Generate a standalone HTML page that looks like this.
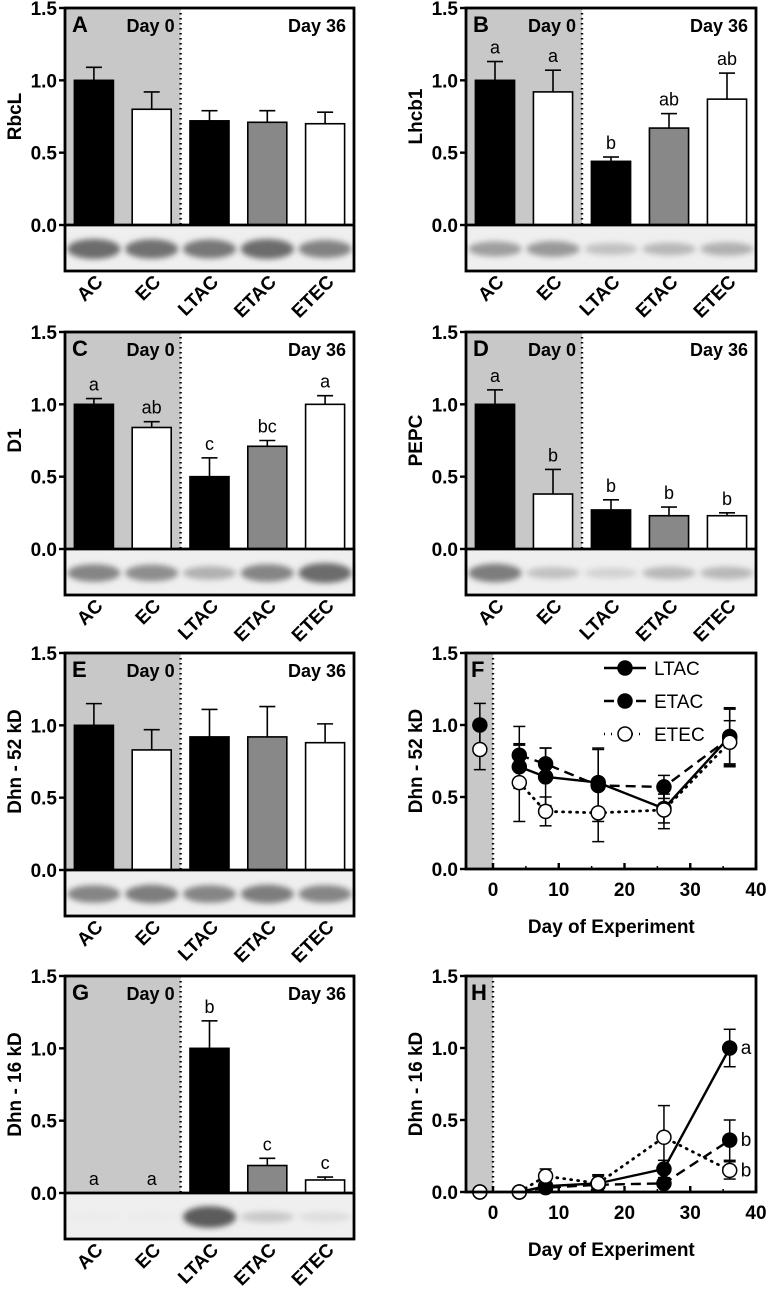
<!DOCTYPE html>
<html><head><meta charset="utf-8"><style>
html,body{margin:0;padding:0;background:#fff;}
svg{display:block;font-family:"Liberation Sans",Arial,sans-serif;}
</style></head><body>
<svg id="fig" width="768" height="1291" viewBox="0 0 768 1291" xmlns="http://www.w3.org/2000/svg">
<defs>
<filter id="blur" x="-20%" y="-100%" width="140%" height="300%"><feGaussianBlur stdDeviation="3"/></filter>
</defs>
</svg>
<script>
// ---- bar-chart data ----
const categories = ["AC","EC","LTAC","ETAC","ETEC"];
const barFills = ["#000","#fff","#000","#888","#fff"];
const rbclValues = [1.0,0.80,0.72,0.71,0.70];
const rbclErrors = [0.09,0.12,0.07,0.08,0.08];
const lhcbValues = [1.0,0.92,0.44,0.67,0.87];
const lhcbErrors = [0.13,0.15,0.03,0.10,0.18];
const lhcbLetters = ["a","a","b","ab","ab"];
const d1Values = [1.0,0.84,0.50,0.71,1.0];
const d1Errors = [0.04,0.04,0.13,0.04,0.06];
const d1Letters = ["a","ab","c","bc","a"];
const pepcValues = [1.0,0.38,0.27,0.23,0.23];
const pepcErrors = [0.10,0.17,0.07,0.06,0.02];
const pepcLetters = ["a","b","b","b","b"];
const dhn52Values = [1.0,0.83,0.92,0.92,0.88];
const dhn52Errors = [0.15,0.14,0.19,0.21,0.13];
const dhn16Values = [0,0,1.0,0.19,0.09];
const dhn16Errors = [0,0,0.19,0.05,0.02];
const dhn16Letters = ["a","a","b","c","c"];
// blot band intensities (0..1)
const rbclBands = [0.75,0.72,0.68,0.75,0.62];
const lhcbBands = [0.45,0.48,0.25,0.3,0.35];
const d1Bands = [0.6,0.55,0.35,0.6,0.75];
const pepcBands = [0.65,0.25,0.15,0.3,0.3];
const dhn52Bands = [0.6,0.65,0.6,0.65,0.6];
const dhn16Bands = [0,0,0.85,0.2,0.08];
const yTicks = [0,0.5,1.0,1.5];
const yTickLabels = ["0.0","0.5","1.0","1.5"];
// ---- line-chart data ----
const days = [4,8,16,26,36];
const day0X = -2;
const xTicks = [0,10,20,30,40];
const f_ltac = [0.71,0.64,0.60,0.42,0.92];
const f_ltacErr = [0.15,0.20,0.24,0.10,0.20];
const f_etac = [0.79,0.73,0.58,0.57,0.91];
const f_etacErr = [0.20,0.11,0.25,0.08,0.20];
const f_etec = [0.60,0.40,0.39,0.41,0.88];
const f_etecErr = [0.27,0.10,0.20,0.13,0.15];
const f_day0 = [1.0,0.83];   // AC filled, EC open
const f_day0Err = [0.15,0.14];
const h_ltac = [0,0.04,0.06,0.16,1.0];
const h_ltacErr = [0,0.02,0.05,0.06,0.13];
const h_etac = [0,0.03,0.05,0.06,0.36];
const h_etacErr = [0,0.01,0.02,0.02,0.14];
const h_etec = [0,0.11,0.06,0.38,0.15];
const h_etecErr = [0,0.05,0.06,0.22,0.06];
const h_day0 = [0,0];
const h_endLetters = ["a","b","b"];

const svg = document.getElementById('fig');
const NS = "http://www.w3.org/2000/svg";
function mk(tag, attrs, parent){
  const e = document.createElementNS(NS, tag);
  for (const k in attrs) e.setAttribute(k, attrs[k]);
  (parent||svg).appendChild(e);
  return e;
}

function barPanel(o){
  const g = mk('g',{});
  
  
  const L=o.L, W=o.W, T=o.T, Z=T+217, B=Z+46;
  const y = v => Z - v/1.5*217;
  const cx = i => L + W*0.1 + i*W*0.2;
  const bw = W*0.135;
  const div = L + W*0.4;
  const shade = mk('rect',{x:L,y:T,width:div-L,height:Z-T,fill:'#c8c8c8'},g);
  
  
  const blot = mk('rect',{x:L,y:Z,width:W,height:B-Z,fill:'#efefef'},g);
  
  
  o.bands.forEach((b,i)=>{
    const c = Math.round(235 - b*170);
    const band = mk('ellipse',{cx:cx(i),cy:Z+24,rx:bw*0.68,ry:4+b*8,fill:`rgb(${c},${c},${c})`,filter:'url(#blur)'},g);
    
    
  });
  const dl = mk('line',{x1:div,y1:T,x2:div,y2:Z,stroke:'#000','stroke-width':2.4,'stroke-dasharray':'1.5 3.5'},g);
  
  
  o.values.forEach((v,i)=>{
    if (v>0){
      const e = o.errors[i];
      mk('line',{x1:cx(i),y1:y(v),x2:cx(i),y2:y(v+e),stroke:'#000','stroke-width':1.6},g);
      mk('line',{x1:cx(i)-8,y1:y(v+e),x2:cx(i)+8,y2:y(v+e),stroke:'#000','stroke-width':1.6},g);
      const r = mk('rect',{x:cx(i)-bw/2,y:y(v),width:bw,height:Z-y(v),fill:barFills[i],stroke:'#000','stroke-width':1.6},g);
      
      
    }
    if (o.letters){
      const t = mk('text',{x:cx(i),y:y(v+o.errors[i])-8,'text-anchor':'middle','font-size':18,fill:'#000'},g);
      t.textContent = o.letters[i];
      
      
    }
  });
  mk('line',{x1:L,y1:Z,x2:L+W,y2:Z,stroke:'#000','stroke-width':2.8},g);
  const fr = mk('rect',{x:L,y:T,width:W,height:B-T,fill:'none',stroke:'#000','stroke-width':2.8},g);
  
  
  yTicks.forEach((t,i)=>{
    mk('line',{x1:L-6,y1:y(t),x2:L,y2:y(t),stroke:'#000','stroke-width':2.4},g);
    const tl = mk('text',{x:L-8,y:y(t)+7,'text-anchor':'end','font-size':19,'font-weight':'bold'},g);
    tl.textContent = yTickLabels[i];
    
    
  });
  const yt = mk('text',{x:0,y:0,'text-anchor':'middle','font-size':19,'font-weight':'bold',transform:`translate(${L-44},${y(0.75)}) rotate(-90)`},g);
  yt.textContent = o.ylabel;
  
  
  categories.forEach((c,i)=>{
    const t = mk('text',{x:0,y:0,'text-anchor':'end','font-size':19,'font-weight':'bold',transform:`translate(${cx(i)+10},${B+12}) rotate(-45)`},g);
    t.textContent = c;
    
    
  });
  const pl = mk('text',{x:L+7,y:T+24,'font-size':22,'font-weight':'bold'},g);
  pl.textContent = o.letter;
  
  
  const d0 = mk('text',{x:div-6,y:T+24,'text-anchor':'end','font-size':18,'font-weight':'bold'},g);
  d0.textContent = 'Day 0';
  
  
  const d36 = mk('text',{x:L+W-8,y:T+24,'text-anchor':'end','font-size':18,'font-weight':'bold'},g);
  d36.textContent = 'Day 36';
  
  
}

function linePanel(o){
  const g = mk('g',{});
  
  
  const L=o.L, W=o.W, T=o.T, Z=T+216;
  const x0 = L+27;
  const x = d => x0 + d*(L+W-x0)/40;
  const y = v => Z - v/1.5*216;
  const sh = mk('rect',{x:L,y:T,width:x(0)-L,height:Z-T,fill:'#c8c8c8'},g);
  
  
  mk('line',{x1:x(0),y1:T,x2:x(0),y2:Z,stroke:'#000','stroke-width':2.4,'stroke-dasharray':'1.5 3.5'},g);
  const series = [
    {n:'ltac',v:o.ltac,e:o.ltacErr,dash:'none',fill:'#000'},
    {n:'etac',v:o.etac,e:o.etacErr,dash:'10 6',fill:'#000'},
    {n:'etec',v:o.etec,e:o.etecErr,dash:'1 6',fill:'#fff'}];
  series.forEach(s=>{
    s.v.forEach((v,i)=>{
      const e = s.e[i];
      if (e>0){
        mk('line',{x1:x(days[i]),y1:y(v-e),x2:x(days[i]),y2:y(v+e),stroke:'#000','stroke-width':1.5},g);
        [v-e,v+e].forEach(w=>mk('line',{x1:x(days[i])-6,y1:y(w),x2:x(days[i])+6,y2:y(w),stroke:'#000','stroke-width':1.5},g));
      }
    });
  });
  series.forEach(s=>{
    const p = mk('polyline',{points:s.v.map((v,i)=>x(days[i])+','+y(v)).join(' '),fill:'none',stroke:'#000','stroke-width':s.n==='etec'?2.8:2.4,'stroke-dasharray':s.dash,'stroke-linecap':s.n==='etec'?'round':'butt'},g);
    
    
  });
  o.day0.forEach((v,i)=>{
    const e = o.day0Err[i];
    if (e>0){
      mk('line',{x1:x(day0X),y1:y(v-e),x2:x(day0X),y2:y(v+e),stroke:'#000','stroke-width':1.5},g);
      [v-e,v+e].forEach(w=>mk('line',{x1:x(day0X)-6,y1:y(w),x2:x(day0X)+6,y2:y(w),stroke:'#000','stroke-width':1.5},g));
    }
  });
  o.day0.forEach((v,i)=>{
    const c = mk('circle',{cx:x(day0X),cy:y(v),r:7,fill:i===0?'#000':'#fff',stroke:'#000','stroke-width':1.5},g);
    
    
  });
  series.forEach(s=>{
    s.v.forEach((v,i)=>{
      const c = mk('circle',{cx:x(days[i]),cy:y(v),r:7,fill:s.fill,stroke:'#000','stroke-width':1.5},g);
      
      
    });
  });
  if (o.endLetters){
    series.forEach((s,k)=>{
      const t = mk('text',{x:x(36)+11,y:y(s.v[4])+6,'font-size':19},g);
      t.textContent = o.endLetters[k];
      
      
    });
  }
  const fr = mk('rect',{x:L,y:T,width:W,height:Z-T,fill:'none',stroke:'#000','stroke-width':2.8},g);
  
  
  yTicks.forEach((t,i)=>{
    mk('line',{x1:L-6,y1:y(t),x2:L,y2:y(t),stroke:'#000','stroke-width':2.4},g);
    const tl = mk('text',{x:L-8,y:y(t)+7,'text-anchor':'end','font-size':19,'font-weight':'bold'},g);
    tl.textContent = yTickLabels[i];
    
    
  });
  xTicks.forEach(t=>{
    mk('line',{x1:x(t),y1:Z,x2:x(t),y2:Z-6,stroke:'#000','stroke-width':2.4},g);
    mk('line',{x1:x(t+5),y1:Z,x2:x(t+5),y2:Z-3,stroke:'#000','stroke-width':1.5},g);
    const tl = mk('text',{x:x(t),y:Z+27,'text-anchor':'middle','font-size':19,'font-weight':'bold'},g);
    tl.textContent = t;
    
    
  });
  const xt = mk('text',{x:x(18),y:Z+64,'text-anchor':'middle','font-size':19,'font-weight':'bold','xml:space':'preserve'},g);
  xt.textContent = o.xlabel;
  
  
  const yt = mk('text',{x:0,y:0,'text-anchor':'middle','font-size':19,'font-weight':'bold',transform:`translate(${L-44},${y(0.75)}) rotate(-90)`},g);
  yt.textContent = o.ylabel;
  
  
  const pl = mk('text',{x:L+5,y:T+24,'font-size':22,'font-weight':'bold'},g);
  pl.textContent = o.letter;
  
  
  if (o.legend){
    const names=['LTAC','ETAC','ETEC'];
    series.forEach((s,k)=>{
      const ly = T+15+k*33;
      const lg = mk('g',{},g);
      
      
      mk('line',{x1:L+138,y1:ly,x2:L+180,y2:ly,stroke:'#000','stroke-width':2.6,'stroke-dasharray':s.dash},lg);
      mk('circle',{cx:L+159,cy:ly,r:7,fill:s.fill,stroke:'#000','stroke-width':1.5},lg);
      const t = mk('text',{x:L+188,y:ly+7,'font-size':19},lg);
      t.textContent = names[k];
    });
  }
}

barPanel({name:'panel-a-rbcl',L:65,W:289,T:8,letter:'A',ylabel:'RbcL',values:rbclValues,errors:rbclErrors,bands:rbclBands});
barPanel({name:'panel-b-lhcb1',L:466,W:290,T:8,letter:'B',ylabel:'Lhcb1',values:lhcbValues,errors:lhcbErrors,letters:lhcbLetters,bands:lhcbBands});
barPanel({name:'panel-c-d1',L:65,W:289,T:332,letter:'C',ylabel:'D1',values:d1Values,errors:d1Errors,letters:d1Letters,bands:d1Bands});
barPanel({name:'panel-d-pepc',L:466,W:290,T:332,letter:'D',ylabel:'PEPC',values:pepcValues,errors:pepcErrors,letters:pepcLetters,bands:pepcBands});
barPanel({name:'panel-e-dhn52',L:65,W:289,T:653,letter:'E',ylabel:'Dhn - 52 kD',values:dhn52Values,errors:dhn52Errors,bands:dhn52Bands});
linePanel({name:'panel-f-dhn52-time',L:466,W:290,T:653,letter:'F',ylabel:'Dhn - 52 kD',xlabel:'Day of Experiment',ltac:f_ltac,ltacErr:f_ltacErr,etac:f_etac,etacErr:f_etacErr,etec:f_etec,etecErr:f_etecErr,day0:f_day0,day0Err:f_day0Err,legend:true});
barPanel({name:'panel-g-dhn16',L:65,W:289,T:976,letter:'G',ylabel:'Dhn - 16 kD',values:dhn16Values,errors:dhn16Errors,letters:dhn16Letters,bands:dhn16Bands});
linePanel({name:'panel-h-dhn16-time',L:466,W:290,T:976,letter:'H',ylabel:'Dhn - 16 kD',xlabel:'Day of  Experiment',ltac:h_ltac,ltacErr:h_ltacErr,etac:h_etac,etacErr:h_etacErr,etec:h_etec,etecErr:h_etecErr,day0:h_day0,day0Err:[0,0],endLetters:h_endLetters});
</script>
</body></html>
